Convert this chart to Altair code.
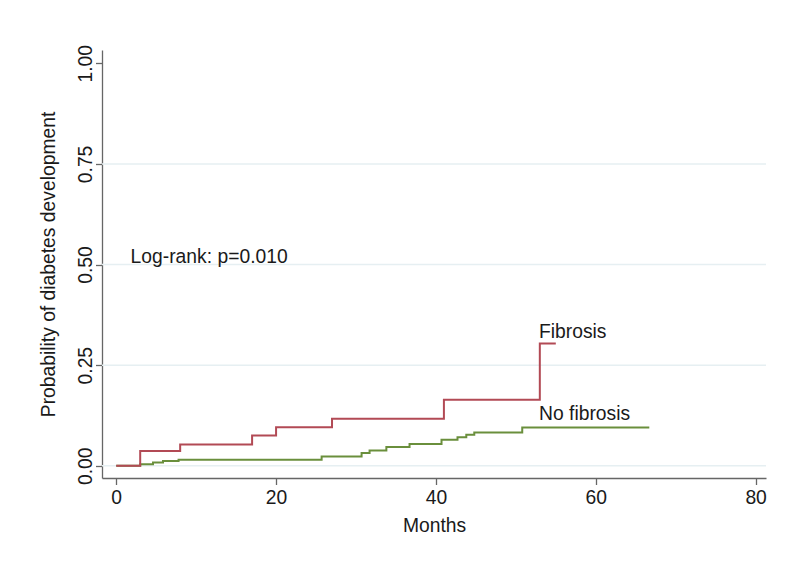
import altair as alt
import pandas as pd

# Kaplan-Meier style cumulative incidence
months_fib = [0, 3, 8, 17, 20, 27, 41, 53, 55]
prob_fib = [0, 0.037, 0.053, 0.075, 0.096, 0.117, 0.164, 0.304, 0.304]

months_nofib = [0, 3, 4.6, 5.85, 7.8, 25.7, 30.7, 31.7, 33.8, 36.7, 40.7, 42.7, 43.8, 44.8, 50.8, 66.7]
prob_nofib = [0, 0.004, 0.008, 0.012, 0.015, 0.023, 0.032, 0.038, 0.047, 0.054, 0.065, 0.071, 0.077, 0.083, 0.095, 0.095]

groups = ["Fibrosis", "No fibrosis"]
colors = ["#B24A55", "#6A8F3C"]

x_ticks = [0, 20, 40, 60, 80]
y_ticks = [0, 0.25, 0.5, 0.75, 1.0]
grid_vals = [0, 0.25, 0.5, 0.75]

label_text = ["Fibrosis", "No fibrosis", "Log-rank: p=0.010"]
label_x = [52.9, 52.9, 1.8]
label_y = [0.332, 0.128, 0.518]

FONT = "Liberation Sans"
FS = 19.3

fib_df = pd.DataFrame({"month": months_fib, "prob": prob_fib})
nofib_df = pd.DataFrame({"month": months_nofib, "prob": prob_nofib})
grid_df = pd.DataFrame({"g": grid_vals})
lab_df = pd.DataFrame({"text": label_text, "x": label_x, "y": label_y})

xscale = alt.Scale(domain=[-1.78, 81.3], nice=False, zero=False)
yscale = alt.Scale(domain=[-0.0303, 1.033], nice=False, zero=False)

grid = alt.Chart(grid_df).mark_rule(color="#E6EFF2", strokeWidth=1.5).encode(
    y=alt.Y("g:Q", scale=yscale)
)

# draw green first then red on top
lines_green = alt.Chart(nofib_df).mark_line(
    interpolate="step-after", strokeWidth=2, color=colors[1]
).encode(x=alt.X("month:Q", scale=xscale), y=alt.Y("prob:Q", scale=yscale))

lines_red = alt.Chart(fib_df).mark_line(
    interpolate="step-after", strokeWidth=2, color=colors[0]
).encode(
    x=alt.X("month:Q", scale=xscale,
            axis=alt.Axis(values=x_ticks, title="Months", format="d",
                          titleX=332, titleY=47, titleBaseline="middle", titleAlign="center")),
    y=alt.Y("prob:Q", scale=yscale,
            axis=alt.Axis(values=y_ticks, format=".2f",
                          title="Probability of diabetes development",
                          labelAngle=270, labelAlign="center", labelBaseline="alphabetic",
                          labelPadding=4,
                          titleX=-54, titleY=214, titleAngle=270, titleAlign="center",
                          titleBaseline="middle")),
)

labels = alt.Chart(lab_df).mark_text(
    align="left", baseline="middle", font=FONT, fontSize=FS, color="#1a1a1a"
).encode(
    x=alt.X("x:Q", scale=xscale),
    y=alt.Y("y:Q", scale=yscale),
    text="text:N",
)

chart = alt.layer(grid, lines_green, lines_red, labels).properties(
    width=664, height=428,
    autosize=alt.AutoSizeParams(type="none"),
    padding={"left": 94, "top": 42, "right": 20, "bottom": 60},
).configure_view(stroke=None).configure_axis(
    grid=False,
    domainColor="#666666", domainWidth=1.3,
    tickColor="#666666", tickWidth=1.3, tickSize=6.5,
    labelFont=FONT, labelFontSize=FS, labelColor="#1a1a1a",
    titleFont=FONT, titleFontSize=FS, titleColor="#1a1a1a", titleFontWeight="normal",
).configure_axisX(labelPadding=4, labelBaseline="top")

chart.save("out.html", embed_options={"renderer": "svg", "actions": False})
